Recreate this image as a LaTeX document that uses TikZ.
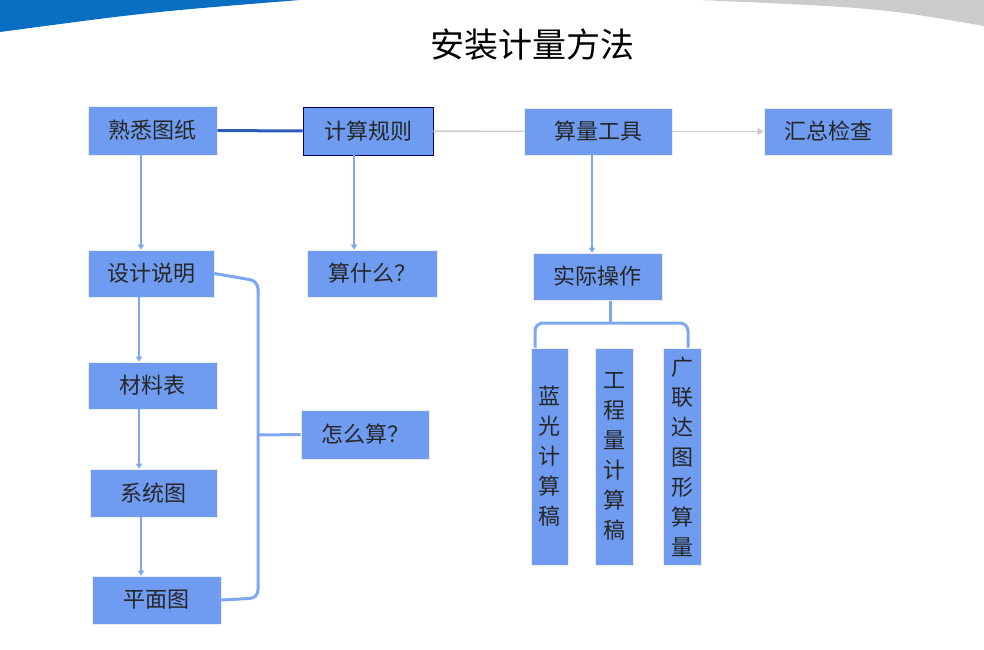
\documentclass[tikz,border=0pt]{standalone}
\usepackage{fontspec}
\setmainfont{Noto Sans CJK SC}
\usetikzlibrary{arrows.meta}
\definecolor{bx}{HTML}{6F9CF0}
\definecolor{ln}{HTML}{7FA6F0}
\definecolor{topb}{HTML}{0A6FC2}
\definecolor{dk}{HTML}{2A5CB8}
\begin{document}
\begin{tikzpicture}[x=1pt,y=-1pt,
  box/.style={fill=bx,draw=white!85!gray,line width=0.6pt,inner sep=0pt,font=\fontsize{22}{30}\selectfont,text=black!85},
  conn/.style={draw=ln,line width=2.2pt,-{Triangle[length=5pt,width=6pt]}},
  brace/.style={draw=ln,line width=3pt,rounded corners=8pt}]
\useasboundingbox (0,0) rectangle (984,649);
\fill[topb] (0,0) -- (300,0) .. controls (150,12) .. (0,32) -- cycle;
\fill[gray!40] (700,0) -- (984,0) -- (984,26) .. controls (880,8) .. (700,0) -- cycle;
\node[font=\fontsize{34}{40}\selectfont] (title) at (532,45) {安装计量方法};
\node[box,minimum width=129,minimum height=49] (a) at (152.5,130.5) {熟悉图纸};
\node[box,draw=blue!40!black,minimum width=130,minimum height=48] (b) at (368,131) {计算规则};
\node[box,minimum width=148,minimum height=47] (c) at (598,131.5) {算量工具};
\node[box,minimum width=128,minimum height=47] (d) at (828,131.5) {汇总检查};
\node[box,minimum width=126,minimum height=47] (e) at (151,273.5) {设计说明};
\node[box,minimum width=130,minimum height=47] (f) at (372,273.5) {算什么？};
\node[box,minimum width=129,minimum height=47] (g) at (152.5,385.5) {材料表};
\node[box,minimum width=127,minimum height=48] (h) at (153.5,493) {系统图};
\node[box,minimum width=129,minimum height=48] (i) at (156.5,600) {平面图};
\node[box,minimum width=128,minimum height=49] (j) at (365,434.5) {怎么算？};
\node[box,minimum width=129,minimum height=47] (k) at (597.5,276.5) {实际操作};
\node[box,minimum width=37,minimum height=217,align=center] (l) at (549.5,456.5) {蓝\\光\\计\\算\\稿};
\node[box,minimum width=38,minimum height=217,align=center] (m) at (614,456.5) {工\\程\\量\\计\\算\\稿};
\node[box,minimum width=38,minimum height=217,align=center] (n) at (682,456.5) {广\\联\\达\\图\\形\\算\\量};
\draw[draw=dk,line width=3pt] (a) -- (b);
\draw[draw=gray!40,line width=1.5pt] (b) -- (c);
\draw[draw=gray!40,line width=1.5pt,-{Triangle[length=6pt,width=7pt]}] (c) -- (d);
\draw[conn] (a.south -| 141,0) -- (e.north -| 141,0);
\draw[conn] (e.south -| 139,0) -- (g.north -| 139,0);
\draw[conn] (g.south -| 139,0) -- (h.north -| 139,0);
\draw[conn] (h.south -| 141,0) -- (i.north -| 141,0);
\draw[conn] (b.south -| 354,0) -- (f.north -| 354,0);
\draw[conn] (c.south -| 592,0) -- (k.north -| 592,0);
\coordinate (bt) at (258,435);
\draw[brace] (e.east) -- (258,281) -- (258,598) -- (i.east);
\draw[brace,rounded corners=0pt] (bt) -- (j.west);
\draw[brace] (610,301) -- (610,323);
\draw[brace] (l.north -| 535,0) -- (535,323) -- (688,323) -- (n.north -| 688,0);
\end{tikzpicture}
\end{document}
